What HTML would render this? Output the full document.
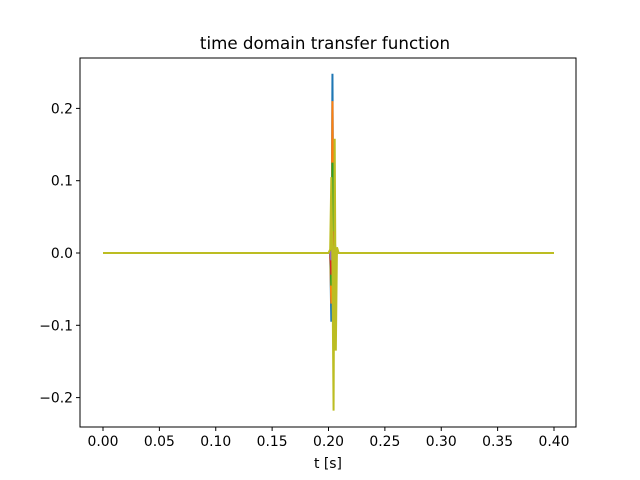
<!DOCTYPE html>
<html><head><meta charset="utf-8"><style>body{margin:0;background:#fff}svg{display:block}text{font-family:"DejaVu Sans","Liberation Sans",sans-serif}</style></head>
<body>
<svg id="c" width="640" height="480"></svg>
<script>
const tPts=[0,0.2,0.2015,0.2025,0.2035,0.2045,0.2055,0.2065,0.2075,0.209,0.4];
const sBlue=[0,0,0.003,-0.095,0.248,-0.06,0.02,-0.005,0,0,0];
const sOrange=[0,0,0.002,-0.07,0.21,-0.05,0.015,-0.004,0,0,0];
const sGreen=[0,0,0.002,-0.045,0.125,-0.03,0.01,-0.003,0,0,0];
const sRed=[0,0,0.001,-0.03,0.03,-0.02,0.005,0,0,0,0];
const sPurple=[0,0,0.001,-0.01,0.01,-0.006,0.004,0,0,0,0];
const sOlive=[0,0,0.005,0.105,-0.02,-0.218,0.158,-0.135,0.008,0,0];
const series=[[sBlue,'#1f77b4'],[sOrange,'#ff7f0e'],[sGreen,'#2ca02c'],[sRed,'#d62728'],[sPurple,'#9467bd'],[sOlive,'#bcbd22']];
const xTicks=[0,0.05,0.1,0.15,0.2,0.25,0.3,0.35,0.4];
const yTicks=[-0.2,-0.1,0,0.1,0.2];
const L=80,R=576,T=58,B=427;
const X=v=>103+v*1127.5, Y=v=>253-v*723;
const svg=document.getElementById('c');const ns='http://www.w3.org/2000/svg';
function mk(tag,attrs,name,txt){const e=document.createElementNS(ns,tag);for(const k in attrs)e.setAttribute(k,attrs[k]);


if(txt!==undefined)e.textContent=txt;svg.appendChild(e);return e;}
mk('text',{x:325,y:49,'text-anchor':'middle','font-size':16.7},'chart-title','time domain transfer function');
series.forEach(([s,c],i)=>{mk('polyline',{points:tPts.map((t,j)=>X(t).toFixed(2)+','+Y(s[j]).toFixed(2)).join(' '),fill:'none',stroke:c,'stroke-width':2},'series-'+i);});
mk('rect',{x:L,y:T,width:R-L,height:B-T,fill:'none',stroke:'#000','stroke-width':1},'plot-frame');
xTicks.forEach(v=>{const x=X(v);mk('line',{x1:x,x2:x,y1:B,y2:B+4,stroke:'#000'},'x-tick');
mk('text',{x:x,y:B+19,'text-anchor':'middle','font-size':13.9},'x-tick-label',v.toFixed(2));});
yTicks.forEach(v=>{const y=Y(v);mk('line',{x1:L-4,x2:L,y1:y,y2:y,stroke:'#000'},'y-tick');
mk('text',{x:L-7,y:y+5,'text-anchor':'end','font-size':13.9},'y-tick-label',(v<0?'\u2212':'')+Math.abs(v).toFixed(1));});
mk('text',{x:328,y:468,'text-anchor':'middle','font-size':13.9},'x-axis-title','t [s]');
</script>
</body></html>
